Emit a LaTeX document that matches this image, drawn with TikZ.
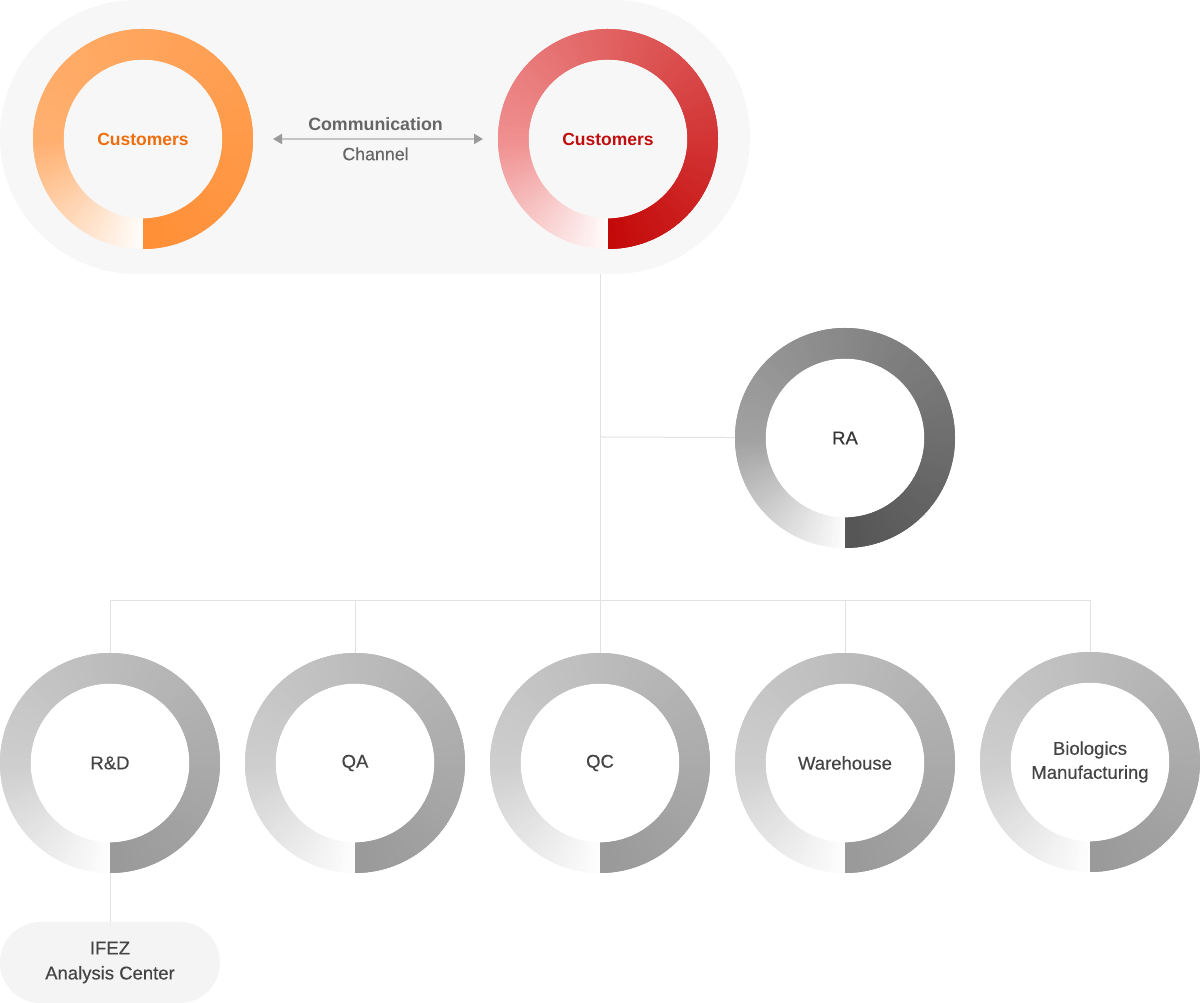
\documentclass[tikz,border=0pt]{standalone}
\usepackage{fontspec}
\setmainfont{Liberation Sans}
\newfontfamily\medfont[FakeBold=0.35]{Liberation Sans}
\usetikzlibrary{arrows.meta}
\definecolor{bgc}{HTML}{F7F7F7}
\definecolor{boxc}{HTML}{F4F4F4}
\definecolor{linec}{HTML}{E2E2E2}
\definecolor{arrc}{HTML}{C4C4C4}
\definecolor{tipc}{HTML}{9A9A9A}
\definecolor{orA}{HTML}{FFB070}
\definecolor{orB}{HTML}{FF8F36}
\definecolor{rdA}{HTML}{F09090}
\definecolor{rdB}{HTML}{C40808}
\definecolor{raA}{HTML}{A2A2A2}
\definecolor{raB}{HTML}{555555}
\definecolor{gyA}{HTML}{CECECE}
\definecolor{gyB}{HTML}{999999}
\definecolor{ortext}{HTML}{EE6E0E}
\definecolor{rdtext}{HTML}{C00D0D}
\definecolor{gytext}{HTML}{444444}
\definecolor{chtext}{HTML}{666666}
\newcommand\drawring[3]{%
  \foreach \i in {0,...,179}{%
    \pgfmathsetmacro\rgT{(\i+0.5)/180}%
    \pgfmathtruncatemacro\rgPa{min(100,400*\rgT)}%
    \pgfmathtruncatemacro\rgPb{max(0,(\rgT-0.25)/0.75*100)}%
    \pgfmathsetmacro\rgA{min(270,272.4-2*\i)}%
    \pgfmathsetmacro\rgB{270-2*(\i+1)}%
    \colorlet{rgtmpA}{#2!\rgPa!white}%
    \colorlet{rgtmpB}{#3!\rgPb!rgtmpA}%
    \fill[rgtmpB] (#1.center) ++(\rgA:110) arc[start angle=\rgA,end angle=\rgB,radius=110]
      -- ++(\rgB:-30.5) arc[start angle=\rgB,end angle=\rgA,radius=79.5] -- cycle;
  }}
\begin{document}
\begin{tikzpicture}[x=1pt,y=1pt,
  ring/.style={circle, minimum size=220pt, inner sep=0pt, outer sep=0pt, align=center},
  lbl/.style={font=\medfont\fontsize{18.5}{24}\selectfont, text=gytext},
  conn/.style={draw=linec, line width=1pt}]
\useasboundingbox (0,0) rectangle (1200,1003);
\fill[white] (0,0) rectangle (1200,1003);
% top background
\node[draw=none, fill=bgc, rounded corners=137pt, minimum width=750pt, minimum height=274pt, inner sep=0pt, outer sep=0pt] (bg) at (375,866) {};
% rings (nodes)
\node[ring, font=\bfseries\fontsize{17.5}{21}\selectfont, text=ortext] (cust1) at (143,864) {Customers};
\node[ring, font=\bfseries\fontsize{17.5}{21}\selectfont, text=rdtext] (cust2) at (608,864) {Customers};
\node[ring, lbl, text=gytext!80!black] (ra) at (845,565) {RA};
\node[ring, lbl] (rd) at (110,240) {R\&D};
\node[ring, lbl] (qa) at (355,240) {QA};
\node[ring, lbl] (qc) at (600,240) {QC};
\node[ring, lbl] (wh) at (845,240) {Warehouse};
\node[ring, lbl] (bio) at (1090,241) {Biologics\\Manufacturing};
\node[fill=boxc, rounded corners=40.5pt, minimum width=220pt, minimum height=81pt, inner sep=0pt, outer sep=0pt, align=center, lbl, font=\medfont\fontsize{18.5}{25}\selectfont] (ifez) at (110,40.5) {IFEZ\\Analysis Center};
% ring gradients
\drawring{cust1}{orA}{orB}
\drawring{cust2}{rdA}{rdB}
\drawring{ra}{raA}{raB}
\drawring{rd}{gyA}{gyB}
\drawring{qa}{gyA}{gyB}
\drawring{qc}{gyA}{gyB}
\drawring{wh}{gyA}{gyB}
\drawring{bio}{gyA}{gyB}
% communication channel
\draw[draw=arrc, line width=2pt, shorten <=20pt, shorten >=15pt,
  {Triangle[length=9pt,width=10pt,color=tipc]}-{Triangle[length=9pt,width=10pt,color=tipc]}]
  (cust1) -- (cust2)
  node[midway, above=4pt, font=\bfseries\fontsize{17.8}{20}\selectfont, text=chtext] (comm) {Communication}
  node[midway, below=4pt, font=\medfont\fontsize{17.8}{20}\selectfont, text=chtext] (chan) {Channel};
% tree connectors
\coordinate (trunktop) at (600,729);
\coordinate (branch) at (600,402);
\coordinate (rajoin) at (600,566);
\draw[conn] (trunktop) -- (branch);
\draw[conn] (rajoin) -- (ra);
\draw[conn] (rd.north) -- (rd.north |- branch) -- (bio.north |- branch) -- (bio.north);
\draw[conn] (qa.north) -- (qa.north |- branch);
\draw[conn] (qc.north) -- (qc.north |- branch);
\draw[conn] (wh.north) -- (wh.north |- branch);
\draw[conn] (rd.south) -- (ifez.north);
\end{tikzpicture}
\end{document}
